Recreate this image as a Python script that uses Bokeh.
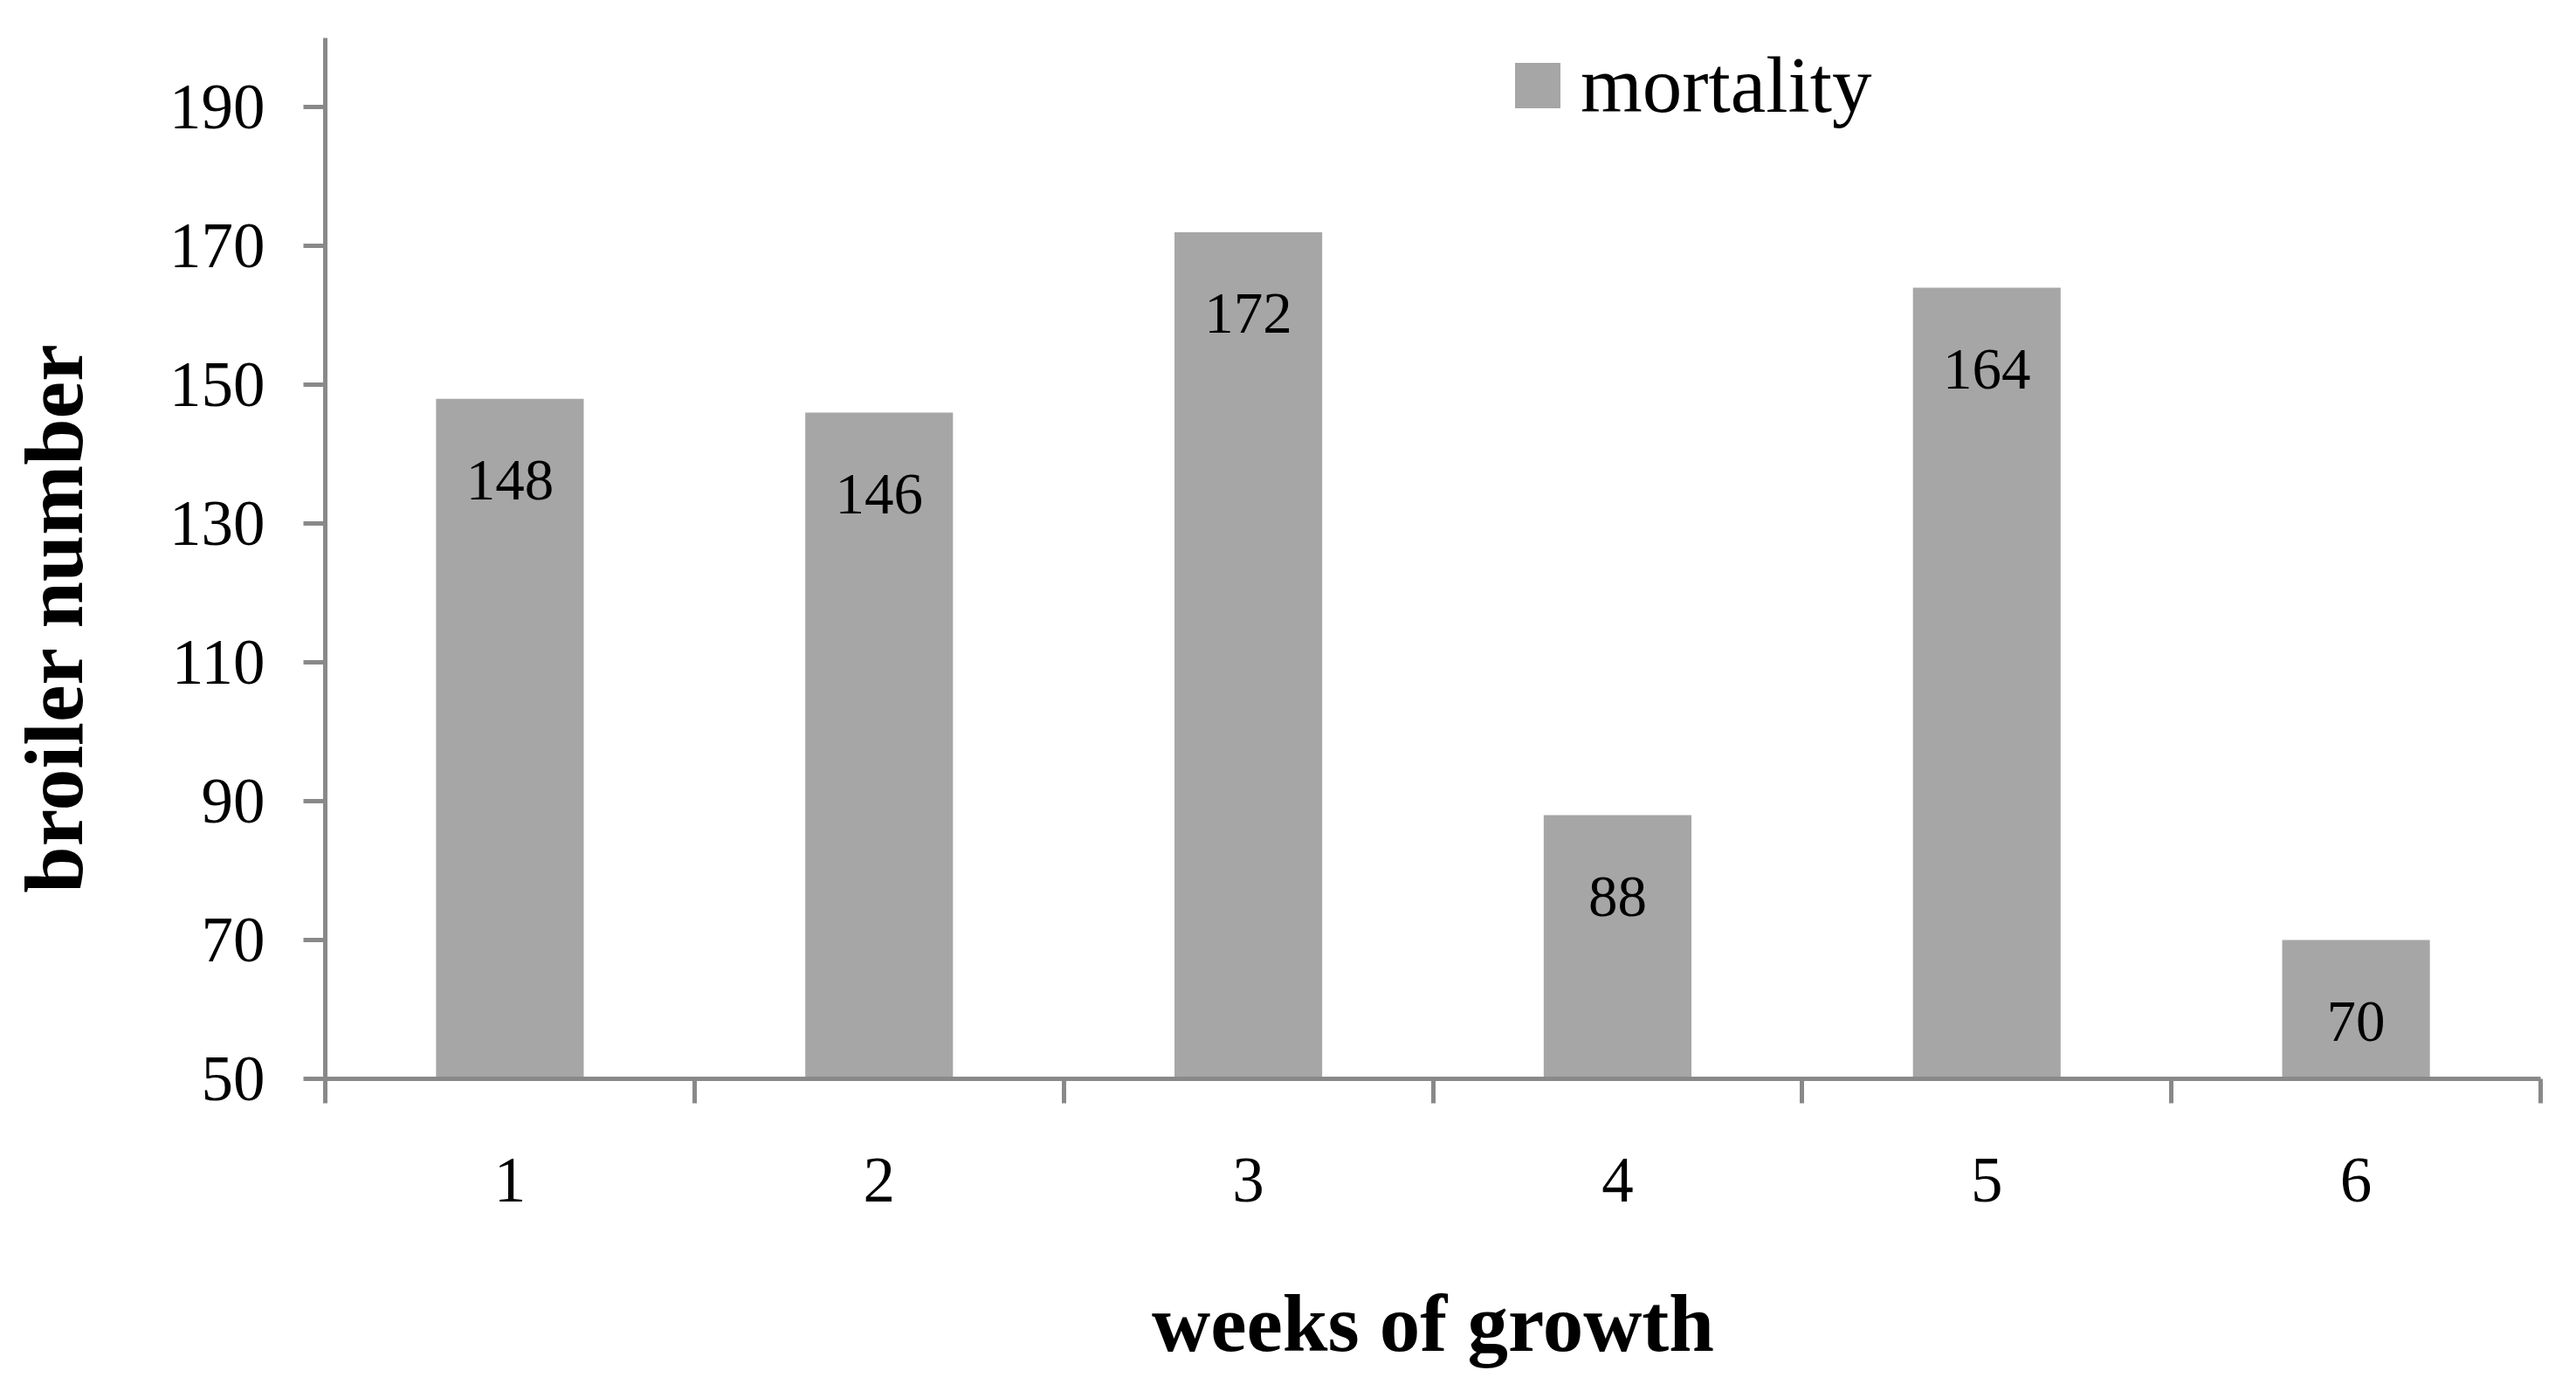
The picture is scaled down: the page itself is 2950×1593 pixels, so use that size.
import math
from bokeh.plotting import figure
from bokeh.layouts import row
from bokeh.models import Range1d, FixedTicker, ColumnDataSource
from bokeh.embed import file_html
from bokeh.resources import INLINE
from bokeh.core.properties import value

# ---- data ----
weeks = [1, 2, 3, 4, 5, 6]
mortality = [148, 146, 172, 88, 164, 70]
y_ticks = [50, 70, 90, 110, 130, 150, 170, 190]
y_start, y_end = 50, 200
series_name = "mortality"
x_title = "weeks of growth"
y_title = "broiler number"

FONT = "Liberation Serif"
AXIS_GRAY = "#898989"
BAR_GRAY = "#a6a6a6"
TITLE_W = 180
TOTAL_W, TOTAL_H = 2934, 1577

src = ColumnDataSource(dict(x=weeks, top=mortality, label=[str(v) for v in mortality]))

# ---- narrow panel holding the vertical axis title ----
yt = figure(width=TITLE_W, height=TOTAL_H, output_backend="svg", toolbar_location=None,
            x_range=Range1d(0, 1), y_range=Range1d(0, 1),
            x_axis_location=None, y_axis_location=None,
            min_border_left=0, min_border_right=0, min_border_top=0, min_border_bottom=0)
yt.outline_line_color = None
yt.xgrid.visible = False
yt.ygrid.visible = False
yt.text(x=[0.339], y=[0.557], text=[y_title], angle=math.pi / 2, y_offset=136,
        text_align="center", text_baseline="middle", text_font=value(FONT),
        text_font_style="bold", text_font_size="96px", text_color="black")

# ---- main chart ----
p = figure(width=TOTAL_W - TITLE_W, height=TOTAL_H, output_backend="svg", toolbar_location=None,
           x_range=Range1d(weeks[0] - 0.5, weeks[-1] + 0.5),
           y_range=Range1d(y_start, y_end),
           min_border_left=372 - TITLE_W, min_border_right=25, min_border_top=43, min_border_bottom=342)
p.outline_line_color = None
p.xgrid.visible = False
p.ygrid.visible = False

bars = p.vbar(x="x", top="top", bottom=y_start, width=0.4, source=src,
              fill_color=BAR_GRAY, line_color=None, legend_label=series_name)

p.text(x="x", y="top", text="label", source=src, text_font=value(FONT),
       text_font_size="67px", text_align="center", text_baseline="middle",
       y_offset=93, text_color="black")

# x axis: labels at centres, ticks at category boundaries
xa = p.xaxis[0]
xa.ticker = FixedTicker(ticks=weeks, minor_ticks=[w - 0.5 for w in weeks] + [weeks[-1] + 0.5])
xa.major_tick_out = 0
xa.major_tick_in = 0
xa.minor_tick_out = 28
xa.minor_tick_in = 0
xa.minor_tick_line_color = AXIS_GRAY
xa.minor_tick_line_width = 5
xa.axis_line_color = AXIS_GRAY
xa.axis_line_width = 5
xa.major_label_text_font = FONT
xa.major_label_text_font_size = "73px"
xa.major_label_text_color = "black"
xa.major_label_standoff = 63
xa.axis_label = x_title
xa.axis_label_text_font = FONT
xa.axis_label_text_font_style = "bold"
xa.axis_label_text_font_size = "93px"
xa.axis_label_text_color = "black"
xa.axis_label_standoff = 85

ya = p.yaxis[0]
ya.ticker = FixedTicker(ticks=y_ticks)
ya.major_tick_out = 25
ya.major_tick_in = 0
ya.minor_tick_out = 0
ya.minor_tick_in = 0
ya.major_tick_line_color = AXIS_GRAY
ya.major_tick_line_width = 5
ya.axis_line_color = AXIS_GRAY
ya.axis_line_width = 5
ya.major_label_text_font = FONT
ya.major_label_text_font_size = "73px"
ya.major_label_text_color = "black"
ya.major_label_standoff = 44

lg = p.legend[0]
lg.location = (1356, 1085)
lg.glyph_width = 65
lg.glyph_height = 65
lg.label_text_font = FONT
lg.label_text_font_size = "91px"
lg.label_text_color = "black"
lg.label_standoff = 17
lg.padding = 0
lg.margin = 0
lg.spacing = 0
lg.border_line_color = None
lg.background_fill_alpha = 0

layout = row(yt, p, spacing=0)
open("out.html", "w").write(file_html(layout, INLINE))
